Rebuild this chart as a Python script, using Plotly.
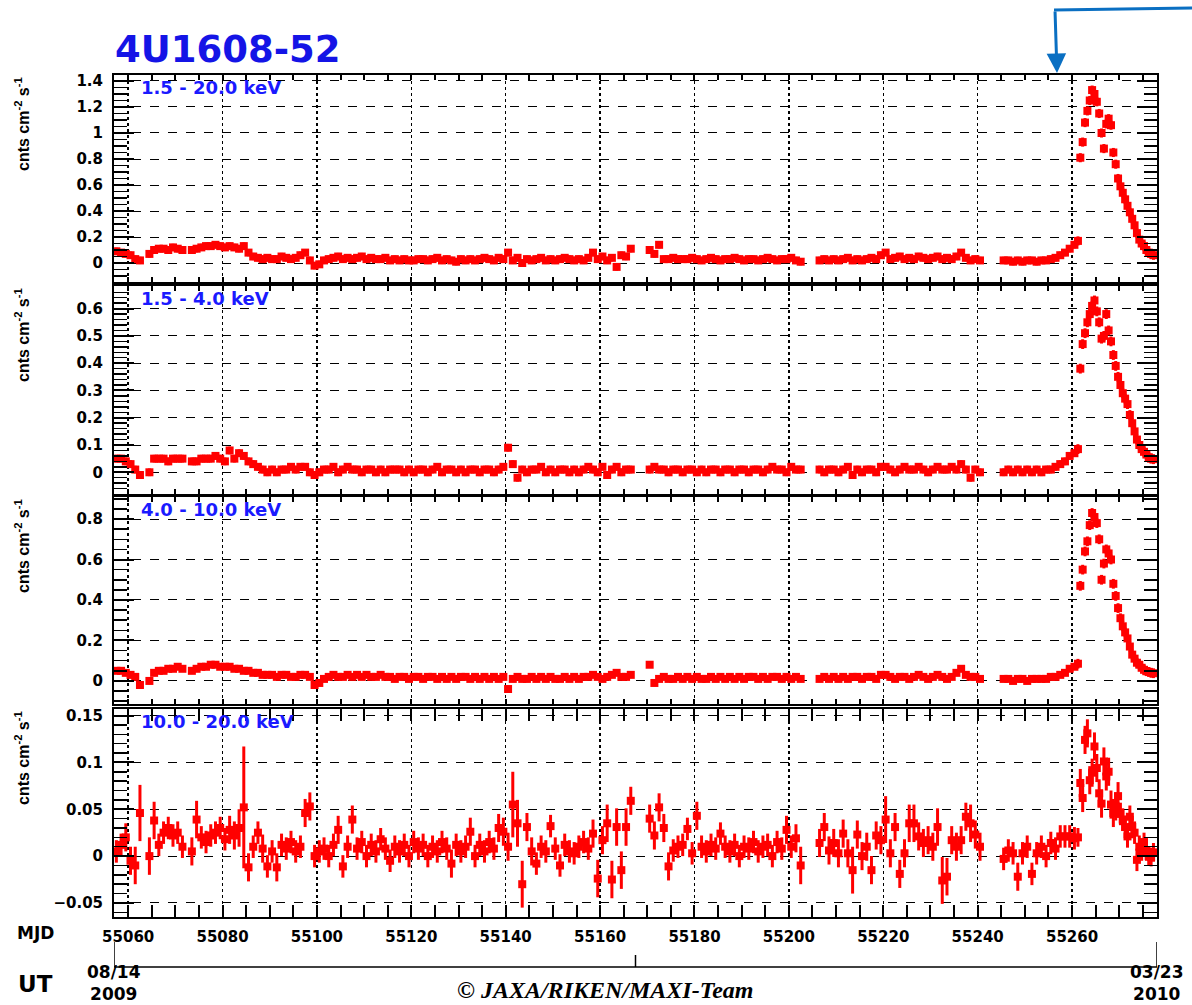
import plotly.graph_objects as go

# ---------------- DATA ----------------
# daily bins (MJD day start); bin centre = day + 0.5
mjd_day = [
    55057, 55058, 55059, 55060, 55061, 55062, 55063, 55064, 55065, 55066,
    55067, 55068, 55069, 55070, 55071, 55072, 55073, 55074, 55075, 55076,
    55077, 55078, 55079, 55080, 55081, 55082, 55083, 55084, 55085, 55086,
    55087, 55088, 55089, 55090, 55091, 55092, 55093, 55094, 55095, 55096,
    55097, 55098, 55099, 55100, 55101, 55102, 55103, 55104, 55105, 55106,
    55107, 55108, 55109, 55110, 55111, 55112, 55113, 55114, 55115, 55116,
    55117, 55118, 55119, 55120, 55121, 55122, 55123, 55124, 55125, 55126,
    55127, 55128, 55129, 55130, 55131, 55132, 55133, 55134, 55135, 55136,
    55137, 55138, 55139, 55140, 55141, 55142, 55143, 55144, 55145, 55146,
    55147, 55148, 55149, 55150, 55151, 55152, 55153, 55154, 55155, 55156,
    55157, 55158, 55159, 55160, 55161, 55162, 55163, 55164, 55165, 55166,
    55167, 55168, 55169, 55170, 55171, 55172, 55173, 55174, 55175, 55176,
    55177, 55178, 55179, 55180, 55181, 55182, 55183, 55184, 55185, 55186,
    55187, 55188, 55189, 55190, 55191, 55192, 55193, 55194, 55195, 55196,
    55197, 55198, 55199, 55200, 55201, 55202, 55203, 55204, 55205, 55206,
    55207, 55208, 55209, 55210, 55211, 55212, 55213, 55214, 55215, 55216,
    55217, 55218, 55219, 55220, 55221, 55222, 55223, 55224, 55225, 55226,
    55227, 55228, 55229, 55230, 55231, 55232, 55233, 55234, 55235, 55236,
    55237, 55238, 55239, 55240, 55241, 55242, 55243, 55244, 55245, 55246,
    55247, 55248, 55249, 55250, 55251, 55252, 55253, 55254, 55255, 55256,
    55257, 55258, 55259, 55260,
]
# half-day bins during the outburst (bin centres)
mjd_burst = [
    55261.25, 55261.75, 55262.25, 55262.75, 55263.25, 55263.75, 55264.25, 55264.75,
    55265.25, 55265.75, 55266.25, 55266.75, 55267.25, 55267.75, 55268.25, 55268.75,
    55269.25, 55269.75, 55270.25, 55270.75, 55271.25, 55271.75, 55272.25, 55272.75,
    55273.25, 55273.75, 55274.25, 55274.75, 55275.25, 55275.75, 55276.25, 55276.75,
    55277.25, 55277.75,
]

# 1.5 - 20.0 keV
p1_day = [
    0.09, 0.08, 0.07, 0.06, 0.03, 0.02, None, 0.07, 0.10, 0.11,
    0.11, 0.10, 0.12, 0.11, 0.10, None, 0.10, 0.11, 0.12, 0.13,
    0.13, 0.14, 0.13, 0.12, 0.13, 0.12, 0.11, 0.13, 0.08, 0.05,
    0.04, 0.03, 0.04, 0.03, 0.03, 0.05, 0.04, 0.03, 0.04, 0.06,
    0.08, 0.02, -0.02, -0.01, 0.02, 0.03, 0.04, 0.05, 0.03, 0.04,
    0.03, 0.04, 0.05, 0.03, 0.04, 0.03, 0.03, 0.04, 0.02, 0.03,
    0.02, 0.03, 0.02, 0.02, 0.03, 0.03, 0.02, 0.03, 0.04, 0.02,
    0.03, 0.02, 0.01, 0.03, 0.02, 0.03, 0.02, 0.03, 0.04, 0.03,
    0.02, 0.04, 0.03, 0.08, 0.02, 0.04, 0.00, 0.03, 0.02, 0.03,
    0.04, 0.02, 0.03, 0.02, 0.03, 0.04, 0.03, 0.02, 0.03, 0.02,
    0.04, 0.08, 0.03, 0.05, 0.02, 0.04, -0.03, 0.06, 0.05, 0.11,
    None, None, None, 0.10, 0.07, 0.14, 0.03, 0.03, 0.04, 0.03,
    0.03, 0.03, 0.04, 0.03, 0.02, 0.03, 0.04, 0.03, 0.02, 0.03,
    0.03, 0.04, 0.03, 0.02, 0.03, 0.03, 0.02, 0.03, 0.04, 0.03,
    0.02, 0.03, 0.03, 0.04, 0.02, 0.01, None, None, None, 0.02,
    0.03, 0.02, 0.03, 0.02, 0.03, 0.04, 0.02, 0.03, 0.02, 0.03,
    0.04, 0.03, 0.06, 0.08, 0.03, 0.04, 0.05, 0.03, 0.04, 0.03,
    0.05, 0.04, 0.03, 0.04, 0.05, 0.03, 0.04, 0.03, 0.05, 0.08,
    0.04, 0.02, 0.03, 0.02, None, None, None, None, 0.02, 0.02,
    0.01, 0.02, 0.01, 0.02, 0.02, 0.01, 0.02, 0.02, 0.03, 0.04,
    0.06, 0.08, 0.11, 0.14,
]
p1_burst = [
    0.17, 0.81, 0.93, 1.08, 1.17, 1.25, 1.33, 1.30, 1.24, 1.15,
    1.00, 0.88, 1.07, 1.11, 1.06, 0.85, 0.76, 0.65, 0.59, 0.54,
    0.49, 0.44, 0.39, 0.34, 0.29, 0.23, 0.18, 0.15, 0.13, 0.10,
    0.08, 0.07, 0.06, None,
]

# 1.5 - 4.0 keV
p2_day = [
    0.05, 0.05, 0.04, 0.03, 0.01, -0.01, None, 0.00, 0.05, 0.05,
    0.05, 0.04, 0.05, 0.05, 0.05, None, 0.04, 0.04, 0.05, 0.05,
    0.05, 0.06, 0.05, 0.04, 0.08, 0.05, 0.07, 0.06, 0.04, 0.03,
    0.02, 0.01, 0.00, 0.01, 0.00, 0.01, 0.01, 0.02, 0.01, 0.02,
    0.02, 0.00, -0.01, 0.00, 0.01, 0.01, 0.02, 0.00, 0.01, 0.02,
    0.01, 0.01, 0.00, 0.01, 0.01, 0.00, 0.01, 0.00, 0.01, 0.01,
    0.01, 0.00, 0.01, 0.00, 0.01, 0.01, 0.00, 0.01, 0.02, 0.00,
    0.01, 0.01, 0.00, 0.01, 0.00, 0.01, 0.01, 0.00, 0.01, 0.01,
    0.00, 0.01, 0.02, 0.09, 0.03, -0.02, 0.01, 0.00, 0.01, 0.01,
    0.02, 0.00, 0.01, 0.00, 0.01, 0.01, 0.00, 0.01, 0.00, 0.01,
    0.02, 0.01, 0.00, 0.02, -0.01, 0.01, 0.02, 0.00, 0.01, 0.01,
    None, None, None, 0.01, 0.02, 0.01, 0.01, 0.00, 0.01, 0.01,
    0.00, 0.01, 0.01, 0.00, 0.01, 0.00, 0.01, 0.01, 0.00, 0.01,
    0.01, 0.00, 0.01, 0.01, 0.00, 0.01, 0.01, 0.00, 0.01, 0.02,
    0.01, 0.01, 0.00, 0.02, 0.01, 0.01, None, None, None, 0.01,
    0.00, 0.01, 0.01, 0.00, 0.01, 0.02, -0.01, 0.01, 0.00, 0.01,
    0.01, 0.00, 0.02, 0.02, 0.01, 0.00, 0.01, 0.02, 0.01, 0.01,
    0.02, 0.01, 0.00, 0.01, 0.02, 0.01, 0.01, 0.02, 0.01, 0.03,
    0.01, -0.02, 0.01, 0.00, None, None, None, None, 0.00, 0.01,
    0.00, 0.01, 0.00, 0.01, 0.00, 0.01, 0.00, 0.01, 0.01, 0.02,
    0.03, 0.04, 0.06, 0.07,
]
p2_burst = [
    0.085, 0.38, 0.47, 0.51, 0.55, 0.58, 0.61, 0.63, 0.59, 0.55,
    0.49, 0.50, 0.58, 0.52, 0.48, 0.43, 0.39, 0.35, 0.32, 0.29,
    0.27, 0.25, 0.21, 0.18, 0.15, 0.12, 0.10, 0.085, 0.075, 0.065,
    0.055, 0.05, 0.048, None,
]

# 4.0 - 10.0 keV
p3_day = [
    0.05, 0.05, 0.04, 0.03, 0.02, -0.02, None, 0.00, 0.04, 0.05,
    0.05, 0.06, 0.06, 0.07, 0.06, None, 0.05, 0.06, 0.07, 0.07,
    0.08, 0.08, 0.07, 0.07, 0.07, 0.06, 0.06, 0.05, 0.05, 0.04,
    0.04, 0.03, 0.03, 0.03, 0.02, 0.03, 0.03, 0.02, 0.02, 0.03,
    0.03, 0.02, -0.02, -0.01, 0.01, 0.02, 0.03, 0.02, 0.02, 0.03,
    0.02, 0.03, 0.02, 0.03, 0.02, 0.02, 0.03, 0.02, 0.02, 0.01,
    0.02, 0.02, 0.01, 0.02, 0.02, 0.01, 0.02, 0.02, 0.01, 0.02,
    0.01, 0.02, 0.01, 0.02, 0.02, 0.01, 0.02, 0.01, 0.02, 0.01,
    0.02, 0.01, 0.02, -0.04, 0.01, 0.02, 0.01, 0.01, 0.02, 0.01,
    0.02, 0.01, 0.02, 0.01, 0.01, 0.02, 0.01, 0.02, 0.01, 0.02,
    0.02, 0.03, 0.02, 0.01, 0.02, 0.03, 0.04, 0.02, 0.02, 0.03,
    None, None, None, 0.08, -0.01, 0.01, 0.02, 0.01, 0.01, 0.02,
    0.01, 0.02, 0.01, 0.02, 0.01, 0.01, 0.02, 0.01, 0.02, 0.01,
    0.02, 0.01, 0.02, 0.01, 0.02, 0.02, 0.01, 0.02, 0.01, 0.02,
    0.02, 0.01, 0.02, 0.01, 0.02, 0.01, None, None, None, 0.01,
    0.02, 0.01, 0.02, 0.01, 0.02, 0.01, 0.02, 0.02, 0.01, 0.02,
    0.02, 0.01, 0.03, 0.03, 0.02, 0.01, 0.02, 0.02, 0.01, 0.02,
    0.03, 0.02, 0.01, 0.02, 0.03, 0.02, 0.01, 0.02, 0.04, 0.06,
    0.03, 0.02, 0.02, 0.01, None, None, None, None, 0.01, 0.01,
    0.00, 0.01, 0.01, 0.00, 0.01, 0.01, 0.01, 0.01, 0.02, 0.02,
    0.03, 0.04, 0.06, 0.07,
]
p3_burst = [
    0.085, 0.47, 0.55, 0.64, 0.69, 0.77, 0.83, 0.81, 0.78, 0.70,
    0.50, 0.58, 0.65, 0.63, 0.60, 0.48, 0.42, 0.36, 0.31, 0.27,
    0.24, 0.21, 0.17, 0.13, 0.11, 0.09, 0.08, 0.065, 0.055, 0.048,
    0.045, 0.04, 0.038, None,
]

# 10.0 - 20.0 keV
p4_day = [
    0.005, 0.012, 0.020, -0.005, -0.010, 0.046, None, 0.000, 0.038, 0.012,
    0.025, 0.030, 0.022, 0.025, 0.010, None, 0.005, 0.039, 0.020, 0.015,
    0.022, 0.025, 0.030, 0.018, 0.028, 0.022, 0.030, 0.052, -0.012, 0.010,
    0.025, 0.008, -0.011, 0.005, -0.012, 0.012, 0.008, 0.015, 0.005, 0.010,
    0.046, 0.053, 0.000, 0.005, 0.008, 0.000, 0.012, 0.028, -0.011, 0.010,
    0.039, 0.008, 0.015, 0.000, 0.012, 0.005, 0.018, 0.008, -0.005, 0.010,
    0.005, 0.012, 0.000, 0.015, 0.008, 0.012, 0.000, 0.010, 0.005, 0.015,
    0.008, -0.008, 0.012, 0.005, 0.010, 0.026, 0.000, 0.012, 0.005, 0.015,
    0.008, 0.030, 0.026, 0.010, 0.055, 0.035, -0.030, 0.031, 0.005, -0.008,
    0.010, 0.005, 0.032, 0.008, -0.010, 0.012, 0.005, 0.003, 0.010, 0.015,
    0.008, 0.024, -0.024, 0.017, 0.035, -0.025, 0.031, -0.015, 0.031, 0.059,
    None, None, None, 0.040, 0.022, 0.052, 0.030, -0.011, 0.006, 0.010,
    0.012, 0.029, 0.003, 0.043, 0.010, 0.005, 0.012, 0.008, 0.024, 0.010,
    0.005, 0.012, 0.000, 0.010, 0.008, 0.015, 0.005, 0.010, 0.012, 0.000,
    0.015, 0.008, 0.028, 0.010, 0.019, -0.010, None, None, None, 0.014,
    0.031, 0.006, 0.014, 0.003, 0.024, 0.003, -0.015, 0.023, 0.000, 0.010,
    -0.015, 0.022, 0.017, 0.039, 0.003, 0.031, -0.019, 0.003, 0.035, 0.035,
    0.021, 0.014, 0.017, 0.010, 0.031, -0.026, -0.022, 0.017, 0.010, 0.017,
    0.042, 0.035, 0.023, 0.010, None, None, None, None, -0.003, 0.006,
    0.003, -0.022, 0.003, 0.010, -0.019, 0.003, 0.010, 0.000, 0.014, 0.008,
    0.021, 0.021, 0.021, 0.019,
]
p4_day_err = [
    0.012, 0.012, 0.015, 0.015, 0.020, 0.030, 0.0, 0.020, 0.020, 0.012,
    0.012, 0.012, 0.012, 0.012, 0.012, 0.0, 0.015, 0.020, 0.012, 0.012,
    0.012, 0.012, 0.012, 0.012, 0.015, 0.015, 0.020, 0.065, 0.015, 0.012,
    0.012, 0.015, 0.012, 0.012, 0.015, 0.012, 0.012, 0.012, 0.012, 0.012,
    0.015, 0.015, 0.012, 0.012, 0.012, 0.012, 0.012, 0.015, 0.012, 0.012,
    0.015, 0.012, 0.012, 0.012, 0.012, 0.012, 0.012, 0.012, 0.012, 0.012,
    0.012, 0.012, 0.012, 0.012, 0.012, 0.012, 0.012, 0.012, 0.012, 0.012,
    0.012, 0.015, 0.012, 0.012, 0.012, 0.015, 0.012, 0.012, 0.012, 0.012,
    0.012, 0.015, 0.015, 0.015, 0.035, 0.025, 0.025, 0.015, 0.015, 0.012,
    0.012, 0.012, 0.012, 0.012, 0.012, 0.012, 0.012, 0.012, 0.012, 0.012,
    0.012, 0.015, 0.020, 0.015, 0.020, 0.020, 0.020, 0.020, 0.020, 0.015,
    0.0, 0.0, 0.0, 0.015, 0.015, 0.015, 0.015, 0.015, 0.012, 0.012,
    0.012, 0.012, 0.012, 0.015, 0.012, 0.012, 0.012, 0.012, 0.012, 0.012,
    0.012, 0.012, 0.012, 0.012, 0.012, 0.012, 0.012, 0.012, 0.012, 0.012,
    0.012, 0.012, 0.015, 0.012, 0.015, 0.020, 0.0, 0.0, 0.0, 0.015,
    0.015, 0.015, 0.015, 0.015, 0.015, 0.015, 0.025, 0.015, 0.015, 0.015,
    0.015, 0.015, 0.015, 0.025, 0.015, 0.015, 0.015, 0.015, 0.020, 0.020,
    0.015, 0.015, 0.015, 0.015, 0.020, 0.025, 0.020, 0.015, 0.015, 0.015,
    0.015, 0.020, 0.015, 0.015, 0.0, 0.0, 0.0, 0.0, 0.012, 0.012,
    0.012, 0.015, 0.012, 0.012, 0.012, 0.012, 0.012, 0.012, 0.012, 0.012,
    0.012, 0.012, 0.012, 0.012,
]
p4_burst = [
    0.020, 0.078, 0.062, 0.124, 0.131, 0.081, 0.089, 0.117, 0.094, 0.067,
    0.056, 0.101, 0.085, 0.090, 0.055, 0.046, 0.053, 0.064, 0.045, 0.039,
    0.031, 0.021, 0.042, 0.031, 0.025, -0.004, 0.010, 0.005, 0.015, 0.005,
    0.000, -0.001, 0.004, None,
]
p4_burst_err = [
    0.010, 0.015, 0.015, 0.015, 0.015, 0.015, 0.015, 0.015, 0.015, 0.015,
    0.015, 0.015, 0.015, 0.015, 0.015, 0.015, 0.015, 0.015, 0.012, 0.012,
    0.012, 0.012, 0.012, 0.012, 0.012, 0.012, 0.012, 0.010, 0.010, 0.010,
    0.010, 0.010, 0.010, 0.0,
]
p1_err = (0.028, 0.035)   # (quiescent, outburst) 1-sigma
p2_err = (0.014, 0.018)
p3_err = (0.016, 0.024)

band_labels = ["1.5 - 20.0 keV", "1.5 - 4.0 keV", "4.0 - 10.0 keV", "10.0 - 20.0 keV"]
source_name = "4U1608-52"
mjd_range = (55057, 55278)           # 2009-08-14 .. 2010-03-23
ut_labels = ["08/14<br>2009", "03/23<br>2010"]

# ---------------- LAYOUT HELPERS ----------------
W, H = 1192, 1005
X0, X1 = 114, 1157
panels_px = [(75, 282), (286, 494), (497, 704), (709, 917)]
yranges = [(-0.146, 1.446), (-0.0796, 0.683), (-0.114, 0.909), (-0.065, 0.157)]
ydticks = [(0.2, 0.05), (0.1, 0.02), (0.2, 0.05), (0.05, 0.01)]

def py(p):
    return 1 - p / H

def px(p):
    return p / W

x_cent = [d + 0.5 for d in mjd_day] + mjd_burst
x_half = [0.5] * len(mjd_day) + [0.25] * len(mjd_burst)

series = [
    (p1_day + p1_burst, [p1_err[0]] * len(p1_day) + [p1_err[1]] * len(p1_burst)),
    (p2_day + p2_burst, [p2_err[0]] * len(p2_day) + [p2_err[1]] * len(p2_burst)),
    (p3_day + p3_burst, [p3_err[0]] * len(p3_day) + [p3_err[1]] * len(p3_burst)),
    (p4_day + p4_burst, p4_day_err + p4_burst_err),
]

BOLD = dict(family="DejaVu Sans", weight="bold", color="black")
RED = "#ff0000"

fig = go.Figure()
for k, (yv, ye) in enumerate(series):
    ax = "" if k == 0 else str(k + 1)
    fig.add_trace(go.Scatter(
        x=x_cent, y=yv, mode="markers",
        xaxis="x" + ax, yaxis="y" + ax,
        marker=dict(symbol="square", size=8, color=RED, line=dict(width=0)),
        error_y=dict(type="data", array=ye, color=RED, thickness=3, width=0),
        error_x=dict(type="data", array=x_half, color=RED, thickness=4, width=0),
        showlegend=False, hoverinfo="skip",
    ))

layout = dict(
    width=W, height=H, margin=dict(l=0, r=0, t=0, b=0, autoexpand=False),
    paper_bgcolor="white", plot_bgcolor="white", showlegend=False,
)
for k in range(4):
    ax = "" if k == 0 else str(k + 1)
    top, bot = panels_px[k]
    last = (k == 3)
    xa = dict(
        domain=[px(X0), px(X1)], anchor="y" + ax, range=list(mjd_range),
        tick0=55060, dtick=20, ticks="inside", ticklen=12 if last else 5,
        tickwidth=2, tickcolor="black", tickformat="d",
        minor=dict(dtick=5, tick0=55060, ticks="inside", ticklen=12 if last else 5,
                   tickwidth=2, tickcolor="black", showgrid=False),
        showline=True, linewidth=2, linecolor="black", mirror="allticks",
        showgrid=True, gridcolor="black", griddash="dot", gridwidth=1.5,
        zeroline=False, showticklabels=last, automargin=False,
        tickfont=dict(size=15, **BOLD), ticklabelstandoff=5,
    )
    if k > 0:
        xa["matches"] = "x"
    layout["xaxis" + ax] = xa
    d, m = ydticks[k]
    layout["yaxis" + ax] = dict(
        domain=[py(bot), py(top)], anchor="x" + ax, range=list(yranges[k]),
        tick0=0, dtick=d, ticks="inside", ticklen=20, tickwidth=2, tickcolor="black",
        minor=dict(dtick=m, tick0=0, ticks="inside", ticklen=13, tickwidth=1.5,
                   tickcolor="black", showgrid=False),
        showline=True, linewidth=2, linecolor="black", mirror="allticks",
        showgrid=True, gridcolor="black", griddash="dash", gridwidth=1,
        zeroline=False, automargin=False,
        tickfont=dict(size=15, **BOLD), ticklabelstandoff=6,
    )
fig.update_layout(**layout)

# UT time axis (drawn against the MJD scale of the bottom panel)
ut_line = dict(color="black", width=1.5)
fig.add_shape(type="line", xref="x4", yref="paper", x0=mjd_range[0], x1=mjd_range[1],
              y0=py(967), y1=py(967), line=ut_line)
for xv, ytop in ((mjd_range[0], 942), (mjd_range[1], 942), (sum(mjd_range) / 2, 955)):
    fig.add_shape(type="line", xref="x4", yref="paper", x0=xv, x1=xv,
                  y0=py(967), y1=py(ytop), line=ut_line)

ann = []
for xv, txt in zip(mjd_range, ut_labels):
    ann.append(dict(text=txt, x=xv, y=py(1005), xref="x4", yref="paper",
                    xanchor="center", yanchor="bottom", showarrow=False,
                    borderpad=0, font=dict(size=17, **BOLD)))
# title
ann.append(dict(text=source_name, x=px(113), y=py(50), xref="paper", yref="paper",
                xanchor="left", yanchor="middle", showarrow=False,
                font=dict(family="DejaVu Sans", weight="bold", size=37, color="#1414e6")))
for k in range(4):
    top, bot = panels_px[k]
    ann.append(dict(text=band_labels[k], x=px(139), y=py(top + 12), xref="paper",
                    yref="paper", xanchor="left", yanchor="middle", showarrow=False,
                    font=dict(family="DejaVu Sans", weight="bold", size=18, color="#1a1aff")))
    ann.append(dict(text="cnts cm<sup>-2</sup> s<sup>-1</sup>", x=px(22), y=py(top),
                    xref="paper", yref="paper", xanchor="center", yanchor="top",
                    textangle=-90, showarrow=False,
                    font=dict(family="Liberation Sans", weight="bold", size=16, color="black")))
ann.append(dict(text="MJD", x=px(15), y=py(933), xref="paper", yref="paper",
                xanchor="left", yanchor="middle", showarrow=False,
                font=dict(size=17, **BOLD)))
ann.append(dict(text="UT", x=px(16), y=py(984), xref="paper", yref="paper",
                xanchor="left", yanchor="middle", showarrow=False,
                font=dict(size=23, **BOLD)))
ann.append(dict(text="© JAXA/RIKEN/MAXI-Team", x=px(605), y=py(1004), xref="paper",
                yref="paper", xanchor="center", yanchor="bottom", showarrow=False,
                borderpad=0, font=dict(family="Liberation Serif", style="italic",
                                       weight="bold", size=24, color="black")))
# blue pointer arrow
ann.append(dict(text="", x=px(1057), y=py(73), ax=-2, ay=-63,
                xref="paper", yref="paper", showarrow=True,
                arrowhead=2, arrowsize=1.3, arrowwidth=3, arrowcolor="#0a6fc2"))
fig.update_layout(annotations=ann)
fig.add_shape(type="line", xref="paper", yref="paper", x0=px(1054), y0=py(10),
              x1=px(1192), y1=py(8), line=dict(color="#0a6fc2", width=3))

fig.write_html(
    "out.html",
    config={"displayModeBar": False, "staticPlot": True},
    post_script="document.body.style.margin='0';document.body.style.overflow='hidden';",
)
